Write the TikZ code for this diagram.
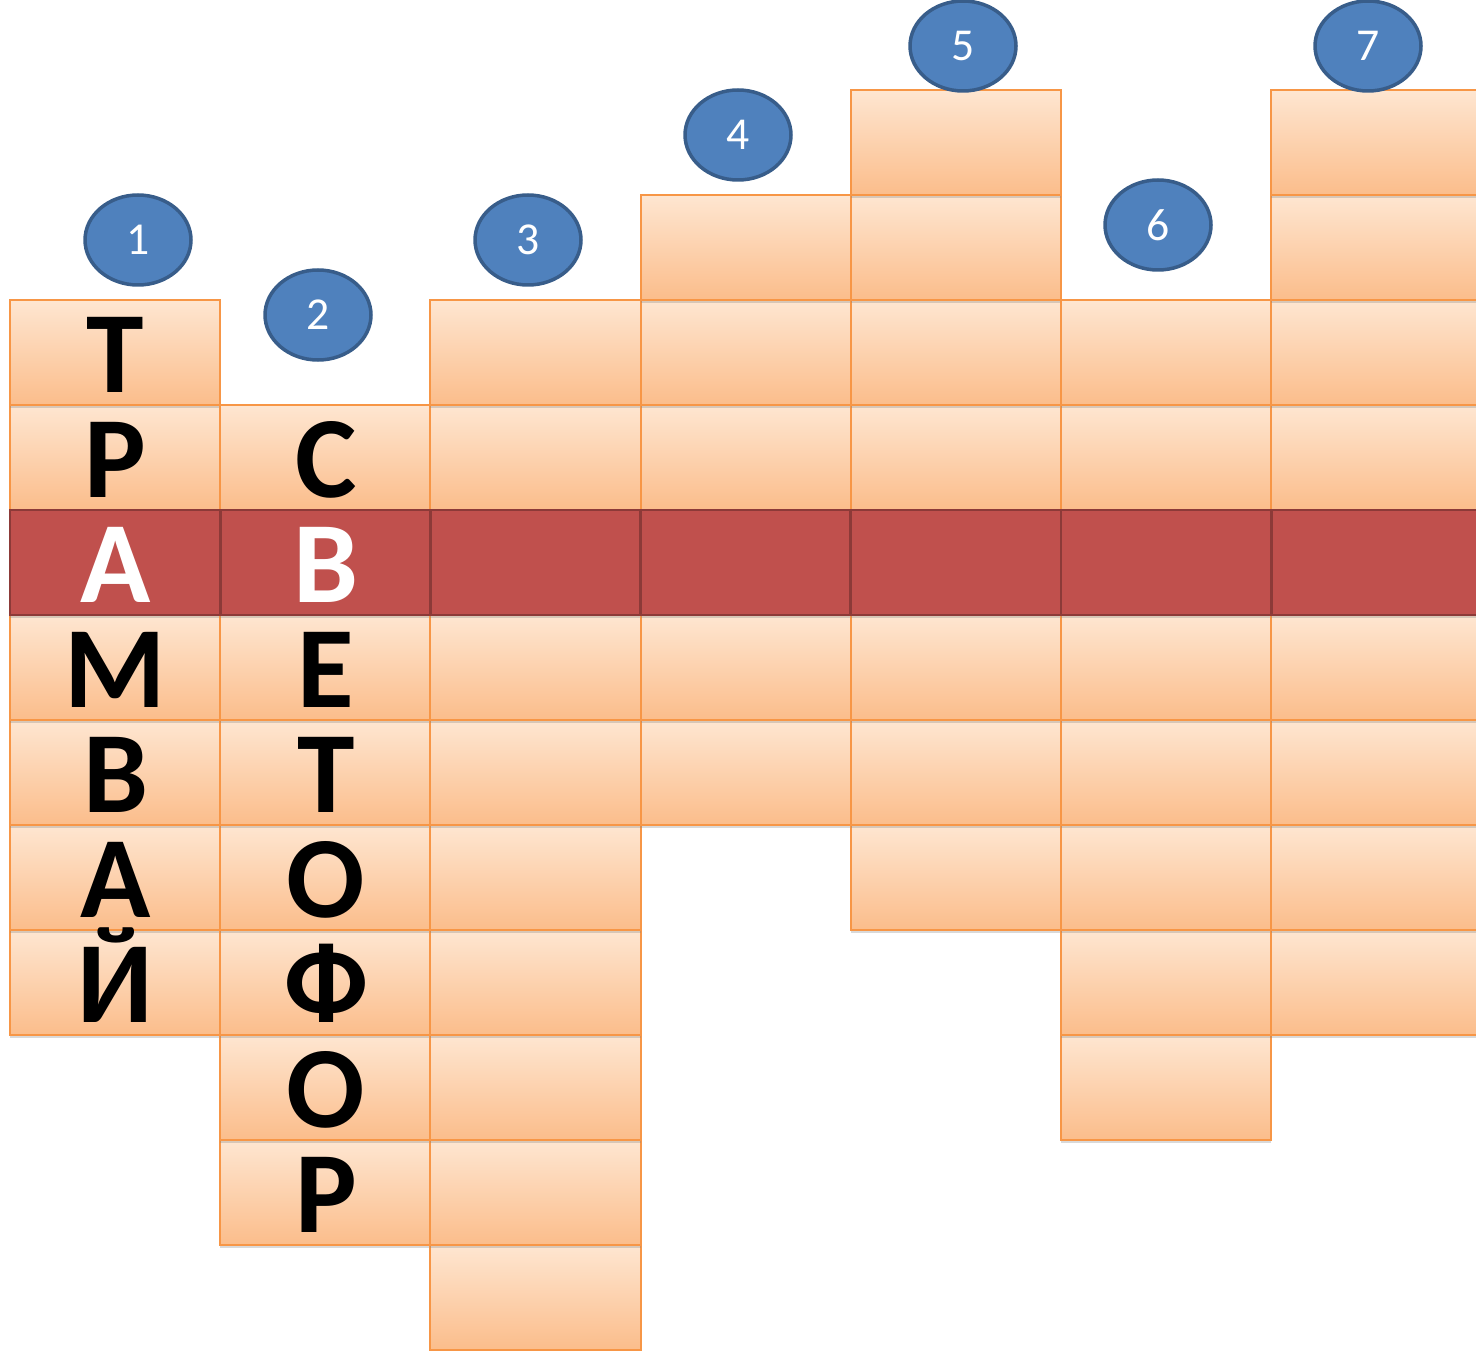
\documentclass[tikz,border=0pt]{standalone}
\usepackage{fontspec}
\setmainfont{Carlito}
\usetikzlibrary{shapes.geometric,shadows}

\definecolor{cellborder}{HTML}{F79646}
\definecolor{celltop}{HTML}{FEE6D1}
\definecolor{cellbottom}{HTML}{FBBD8B}
\definecolor{keyfill}{HTML}{C0504D}
\definecolor{keyborder}{HTML}{8C3A38}
\definecolor{numfill}{HTML}{4F81BD}
\definecolor{numborder}{HTML}{385D8A}

\tikzset{
  cell/.style={draw=cellborder, line width=1.1pt, top color=celltop, bottom color=cellbottom,
    drop shadow={shadow xshift=0pt, shadow yshift=-1.5pt, opacity=0.3}},
  keycell/.style={draw=keyborder, line width=1.6pt, fill=keyfill},
  number/.style={ellipse, draw=numborder, line width=2pt, fill=numfill, text=white,
    minimum width=2.12cm, minimum height=1.8cm, inner sep=0pt, font=\fontsize{26}{30}\selectfont},
  letter/.style={anchor=base, inner sep=0pt, font=\fontsize{66}{70}\selectfont\bfseries},
}

\begin{document}
\begin{tikzpicture}[x=0.02cm, y=-0.02cm]
% page frame
\useasboundingbox (0,0) rectangle (1476,1351);
\clip (0,0) rectangle (1476,1351);

% column width and row height
\def\cw{210.2}
\def\rh{105}

% cells of each column: column / first row / last row
\foreach \col/\first/\last in {1/2/8, 2/3/10, 3/2/11, 4/1/6, 5/0/7, 6/2/9, 7/0/8} {
  \pgfmathsetmacro\xl{10+\cw*(\col-1)}
  \foreach \k in {\last,...,\first}
    \path[cell] (\xl,{90+\rh*\k}) rectangle ({\xl+\cw},{90+\rh*(\k+1)});
}

% the key row
\foreach \col in {1,...,7} {
  \pgfmathsetmacro\xl{10+\cw*(\col-1)}
  \path[keycell] (\xl,{90+\rh*4}) rectangle ({\xl+\cw},{90+\rh*5});
}

% word 1
\foreach \ltr/\clr [count=\i] in {Т/black, Р/black, А/white, М/black, В/black, А/black, Й/black}
  \node[letter, text=\clr] (a\i) at (115.5,{90+\rh*(\i+2)-13}) {\ltr};

% word 2
\foreach \ltr/\clr [count=\i] in {С/black, В/white, Е/black, Т/black, О/black, Ф/black, О/black, Р/black}
  \node[letter, text=\clr] (b\i) at (326,{90+\rh*(\i+3)-13}) {\ltr};

% numbers
\node[number] (n1) at (138,240) {1};
\node[number] (n2) at (318,315) {2};
\node[number] (n3) at (528,240) {3};
\node[number] (n4) at (738,135) {4};
\node[number] (n5) at (963,46) {5};
\node[number] (n6) at (1158,225) {6};
\node[number] (n7) at (1368,46) {7};

\end{tikzpicture}
\end{document}
